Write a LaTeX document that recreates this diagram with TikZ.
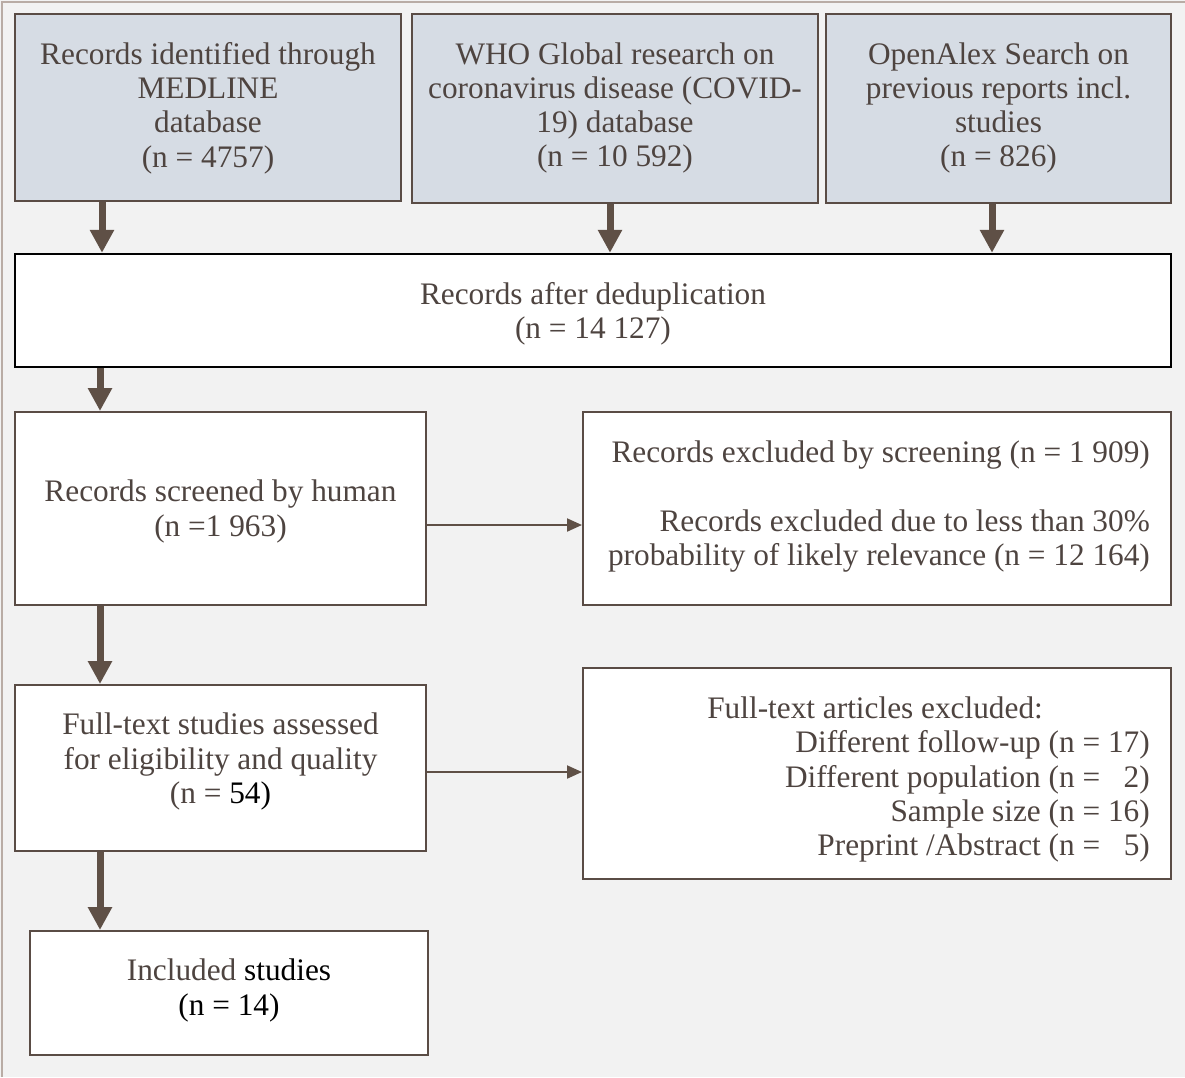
\documentclass[tikz,border=0pt]{standalone}
\usepackage{fontspec}
\setmainfont{Liberation Serif}
\usetikzlibrary{arrows.meta}
\definecolor{bgc}{RGB}{242,242,242}
\definecolor{framec}{RGB}{185,172,165}
\definecolor{boxc}{RGB}{90,76,69}
\definecolor{bluec}{RGB}{214,220,228}
\definecolor{txtc}{RGB}{78,68,64}
\definecolor{arrc}{RGB}{95,80,70}
\begin{document}
\begin{tikzpicture}[x=1pt,y=-1pt,
  boxst/.style={draw=boxc, line width=2pt, rectangle, inner sep=0pt},
  srcbox/.style={boxst, fill=bluec},
  whitebox/.style={boxst, fill=white},
  txt/.style={align=center, inner sep=0pt, text=txtc, font=\fontsize{31.3}{34.3}\selectfont},
  bigarrow/.style={draw=arrc, line width=7pt, -{Triangle[width=23pt,length=23pt]}},
  thinarrow/.style={draw=arrc, line width=2pt, -{Triangle[width=13pt,length=15pt]}}]
\useasboundingbox (0,0) rectangle (1185,1077);
\fill[bgc] (0,0) rectangle (1185,1077);
\draw[framec, line width=2pt] (2,1077) -- (2,2) -- (1185,2);

% boxes
\node[srcbox, minimum width=386pt, minimum height=187pt] (b1) at (208,107.5) {};
\node[srcbox, minimum width=406pt, minimum height=189pt] (b2) at (615,108.5) {};
\node[srcbox, minimum width=345pt, minimum height=189pt] (b3) at (998.5,108.5) {};
\node[whitebox, draw=black, line width=2.4pt, minimum width=1156pt, minimum height=113pt] (dedup) at (593,310.5) {};
\node[whitebox, minimum width=411pt, minimum height=193pt] (scr) at (220.5,508.5) {};
\node[whitebox, minimum width=588pt, minimum height=193pt] (ex1) at (877,508.5) {};
\node[whitebox, minimum width=411pt, minimum height=166pt] (ft) at (220.5,768) {};
\node[whitebox, minimum width=588pt, minimum height=211pt] (ex2) at (877,773.5) {};
\node[whitebox, minimum width=398pt, minimum height=124pt] (inc) at (229,993) {};

% texts
\node[txt] (t1) at (208,108) {Records identified through\\MEDLINE\\database\\(n = 4757)};
\node[txt] (t2) at (615,108) {WHO Global research on\\coronavirus disease (COVID-\\19) database\\(n = 10 592)};
\node[txt] (t3) at (998.5,108) {OpenAlex Search on\\previous reports incl.\\studies\\(n = 826)};
\node[txt] (td) at (593,313.5) {Records after deduplication\\(n = 14 127)};
\node[txt] (ts) at (220.5,511.5) {Records screened by human\\(n =1 963)};
\node[txt, align=right, anchor=east] (te1) at (1150,506.5) {Records excluded by screening (n = 1 909)\\[34.3pt]Records excluded due to less than 30\%\\probability of likely relevance (n = 12 164)};
\node[txt] (tf) at (220.5,761.5) {Full-text studies assessed\\for eligibility and quality\\(n = {\color{black}54)}};
\node[txt, align=right, anchor=east] (te2) at (1150,779.5) {Full-text articles excluded:\hspace*{107pt}\\Different follow-up (n = 17)\\Different population (n = \phantom{1}2)\\Sample size (n = 16)\\Preprint /Abstract (n = \phantom{1}5)};
\node[txt] (ti) at (229,990.5) {Included {\color{black}studies}\\{\color{black}(n = 14)}};

% arrow guide coordinates
\coordinate (a1) at (102,0);
\coordinate (a2) at (610,0);
\coordinate (a3) at (992,0);
\coordinate (a4) at (100,0);
\coordinate (h1) at (0,525);
\coordinate (h2) at (0,772);

\draw[bigarrow] (b1.south -| a1) -- (dedup.north -| a1);
\draw[bigarrow] (b2.south -| a2) -- (dedup.north -| a2);
\draw[bigarrow] (b3.south -| a3) -- (dedup.north -| a3);
\draw[bigarrow] (dedup.south -| a4) -- (scr.north -| a4);
\draw[bigarrow] (scr.south -| a4) -- (ft.north -| a4);
\draw[bigarrow] (ft.south -| a4) -- (inc.north -| a4);
\draw[thinarrow] (scr.east |- h1) -- (ex1.west |- h1);
\draw[thinarrow] (ft.east |- h2) -- (ex2.west |- h2);
\end{tikzpicture}
\end{document}
